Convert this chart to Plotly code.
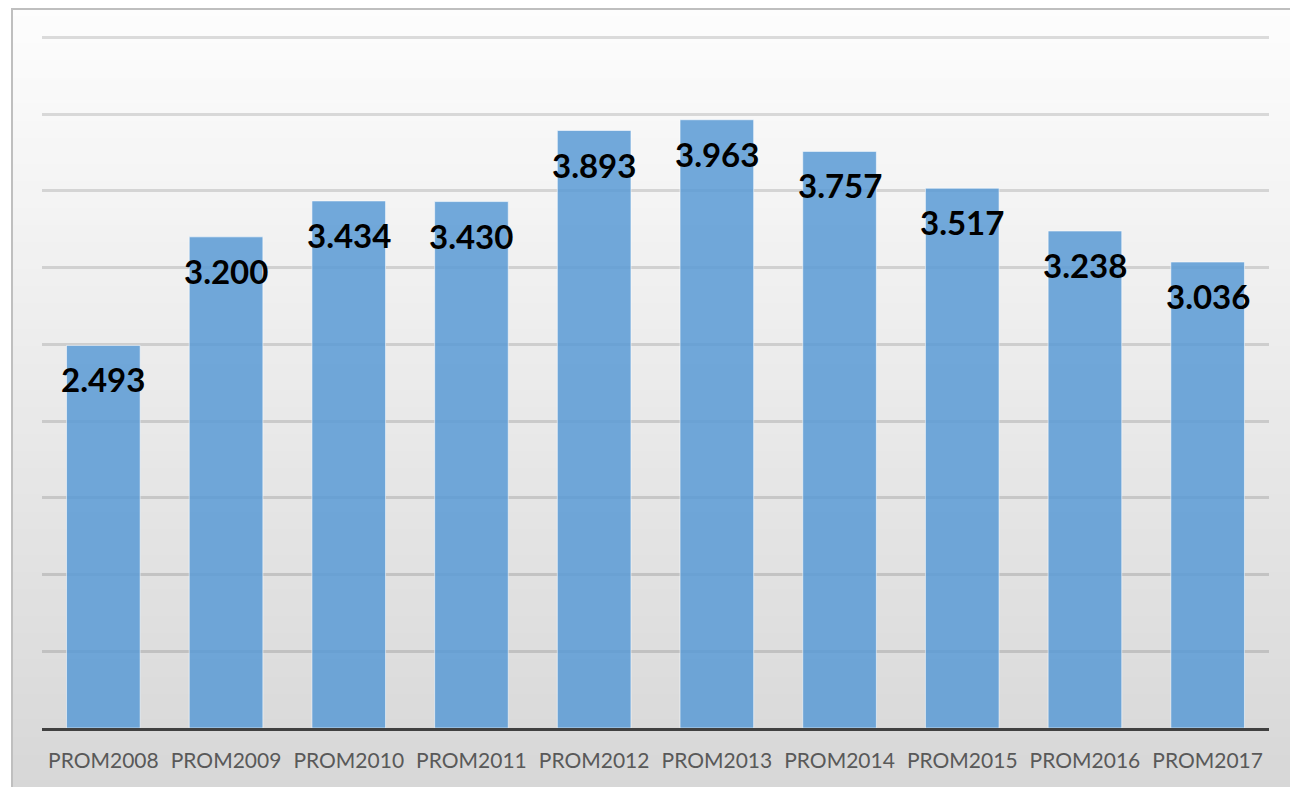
import plotly.graph_objects as go

categories = ["PROM2008", "PROM2009", "PROM2010", "PROM2011", "PROM2012",
              "PROM2013", "PROM2014", "PROM2015", "PROM2016", "PROM2017"]
values = [2.493, 3.200, 3.434, 3.430, 3.893, 3.963, 3.757, 3.517, 3.238, 3.036]
value_labels = ["2.493", "3.200", "3.434", "3.430", "3.893",
                "3.963", "3.757", "3.517", "3.238", "3.036"]

W, H = 1290, 779
ML, MR, MT, MB = 34, 29, 14, 59
PW, PH = W - ML - MR, H - MT - MB


def px_x(p):
    return (p - ML) / PW


def px_y(p):
    return (H - MB - p) / PH


fig = go.Figure()
fig.add_trace(go.Bar(
    x=categories, y=values,
    marker=dict(color="rgba(91,155,213,0.86)",
                line=dict(color="rgba(255,255,255,0.55)", width=1)),
    width=0.6, hoverinfo="x+y",
))

annotations = []
for c, v, t in zip(categories, values, value_labels):
    annotations.append(dict(
        x=c, y=v, xref="x", yref="y", text=t, showarrow=False,
        yanchor="middle", xanchor="center", yshift=-34,
        font=dict(family="Lato, 'Open Sans', sans-serif", size=33,
                  color="#000000", weight="bold"),
    ))

# background gradient (chart area) as thin bands
shapes = []
top_px, bot_px = 0, H + 2
n = 90
for i in range(n):
    y0 = top_px + (bot_px - top_px) * i / n
    y1 = top_px + (bot_px - top_px) * (i + 1) / n + 0.8
    f = (i + 0.5) / n
    g = int(round(253 - (253 - 215) * f))
    shapes.append(dict(
        type="rect", xref="paper", yref="paper", layer="below",
        x0=px_x(4), x1=px_x(W + 2), y0=px_y(y1), y1=px_y(y0),
        fillcolor=f"rgb({g},{g},{g})", line=dict(width=0),
    ))
# chart border
shapes.append(dict(
    type="rect", xref="paper", yref="paper", layer="above",
    x0=px_x(4), x1=px_x(W + 5), y0=px_y(H + 5), y1=px_y(1),
    fillcolor="rgba(0,0,0,0)", line=dict(color="#bfbfbf", width=2),
))

fig.update_layout(
    width=W, height=H,
    margin=dict(l=ML, r=MR, t=MT, b=MB, pad=0),
    paper_bgcolor="#ffffff",
    plot_bgcolor="rgba(0,0,0,0)",
    bargap=0.4,
    showlegend=False,
    shapes=shapes,
    annotations=annotations,
    font=dict(family="Lato, 'Open Sans', sans-serif"),
    xaxis=dict(
        showline=True, linecolor="#404040", linewidth=3,
        showgrid=False, ticks="", ticklabelstandoff=12,
        tickfont=dict(family="Lato, 'Open Sans', sans-serif", size=21, color="#595959"),
        fixedrange=True,
    ),
    yaxis=dict(
        range=[0, 4.6], dtick=0.5, showticklabels=False,
        showgrid=True, gridcolor="rgba(0,0,0,0.13)", gridwidth=3,
        zeroline=False, showline=False, ticks="", fixedrange=True,
    ),
)

fig.write_html("out.html")
